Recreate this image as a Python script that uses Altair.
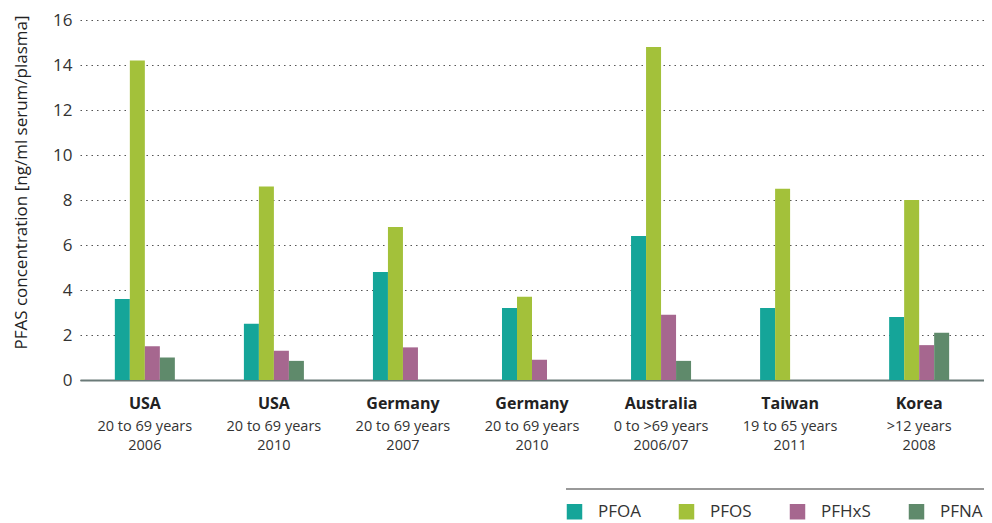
import altair as alt
import pandas as pd

countries = ["USA", "USA", "Germany", "Germany", "Australia", "Taiwan", "Korea"]
ages = ["20 to 69 years", "20 to 69 years", "20 to 69 years", "20 to 69 years",
        "0 to >69 years", "19 to 65 years", ">12 years"]
years = ["2006", "2010", "2007", "2010", "2006/07", "2011", "2008"]

compounds = ["PFOA", "PFOS", "PFHxS", "PFNA"]
colors = ["#15a599", "#a3c13a", "#a6678f", "#5f8a6b"]

pfoa = [3.6, 2.5, 4.8, 3.2, 6.4, 3.2, 2.8]
pfos = [14.2, 8.6, 6.8, 3.7, 14.8, 8.5, 8.0]
pfhxs = [1.5, 1.3, 1.45, 0.9, 2.9, None, 1.55]
pfna = [1.0, 0.85, None, None, 0.85, None, 2.1]

keys = [f"{c}|{a}|{y}" for c, a, y in zip(countries, ages, years)]

rows = []
for series, name in zip([pfoa, pfos, pfhxs, pfna], compounds):
    for k, v in zip(keys, series):
        if v is not None:
            rows.append({"group": k, "compound": name, "value": v})
df = pd.DataFrame(rows)

labels_df = pd.DataFrame({"group": keys, "sub": [f"{a}\n{y}" for a, y in zip(ages, years)]})

W, H = 904, 360
FONT = "Open Sans"

xscale = alt.Scale(domain=keys, paddingInner=0.535, paddingOuter=0.27)

bars = alt.Chart(df).mark_bar().encode(
    x=alt.X("group:N", scale=xscale, sort=keys,
            axis=alt.Axis(title=None, labelExpr="split(datum.label, '|')[0]",
                          labelFontWeight="bold", labelFontSize=16, labelColor="#222",
                          labelPadding=15, labelAngle=0, ticks=False,
                          domainColor="#6a7a78", domainWidth=2, grid=False)),
    xOffset=alt.XOffset("compound:N", scale=alt.Scale(domain=compounds, paddingInner=0, paddingOuter=0)),
    y=alt.Y("value:Q", scale=alt.Scale(domain=[0, 16], nice=False),
            axis=alt.Axis(title="PFAS concentration [ng/ml serum/plasma]",
                          values=list(range(0, 17, 2)), ticks=False, domain=False,
                          labelFontSize=17, labelColor="#333", labelPadding=8,
                          titleFontSize=17, titleFontWeight="normal", titleColor="#222",
                          titleX=-50, titleY=162, titleAlign="center", titleBaseline="bottom",
                          gridDash=[1.5, 4], gridColor="#555", gridWidth=1.2)),
    color=alt.Color("compound:N", scale=alt.Scale(domain=compounds, range=colors),
                    legend=alt.Legend(title=None, orient="none", direction="horizontal",
                                      legendX=486, legendY=483,
                                      symbolType="square", symbolSize=240,
                                      symbolStrokeWidth=0, symbolOpacity=1,
                                      labelFontSize=17, labelColor="#333",
                                      labelOffset=15, columnPadding=37)),
)

subs = alt.Chart(labels_df).mark_text(
    fontSize=14.5, color="#333", lineBreak="\n", lineHeight=19, baseline="middle", font=FONT
).encode(
    x=alt.X("group:N", scale=xscale, sort=keys),
    y=alt.value(H + 47),
    text="sub:N",
)

rule = alt.Chart(pd.DataFrame({"a": [0]})).mark_rule(color="#777", strokeWidth=1.5).encode(
    x=alt.value(486), x2=alt.value(907), y=alt.value(H + 109)
)

chart = alt.layer(bars, subs, rule).properties(
    width=W, height=H,
    autosize=alt.AutoSizeParams(type="none"),
    padding={"left": 72, "top": 12, "right": 0, "bottom": 142},
).configure(font=FONT).configure_view(stroke=None)

chart.save("out.html", embed_options={"renderer": "svg", "actions": False})
